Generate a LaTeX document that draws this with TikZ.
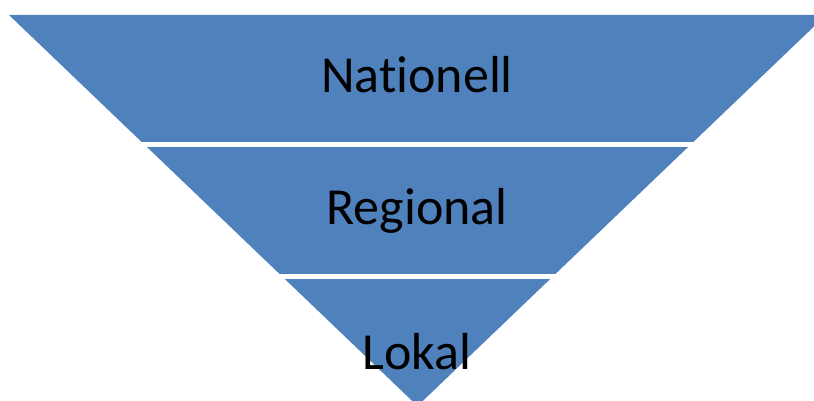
\documentclass[tikz,border=0pt]{standalone}
\usepackage{fontspec}
\setmainfont[Ligatures=NoCommon]{Carlito}
\begin{document}
\begin{tikzpicture}[x=1pt,y=1pt,
  band/.style={fill=bandblue},
  lbl/.style={anchor=base,inner sep=0pt,font=\fontsize{52}{52}\selectfont,text=black}]
\definecolor{bandblue}{HTML}{4F81BD}
\useasboundingbox (0,0) rectangle (814,401);
\begin{scope}
  \clip (0,0) rectangle (814,401);
  \clip (9,386) -- (826,386) -- (417.5,-5) -- cycle;
  \fill[band] (0,259) rectangle (830,390);
  \fill[band] (0,127) rectangle (830,254);
  \fill[band] (0,-10) rectangle (830,122);
\end{scope}
\node[lbl] (nat) at (417,308) {Nationell};
\node[lbl] (reg) at (417,176) {Regional};
\node[lbl] (lok) at (417,31) {Lokal};
\end{tikzpicture}
\end{document}
